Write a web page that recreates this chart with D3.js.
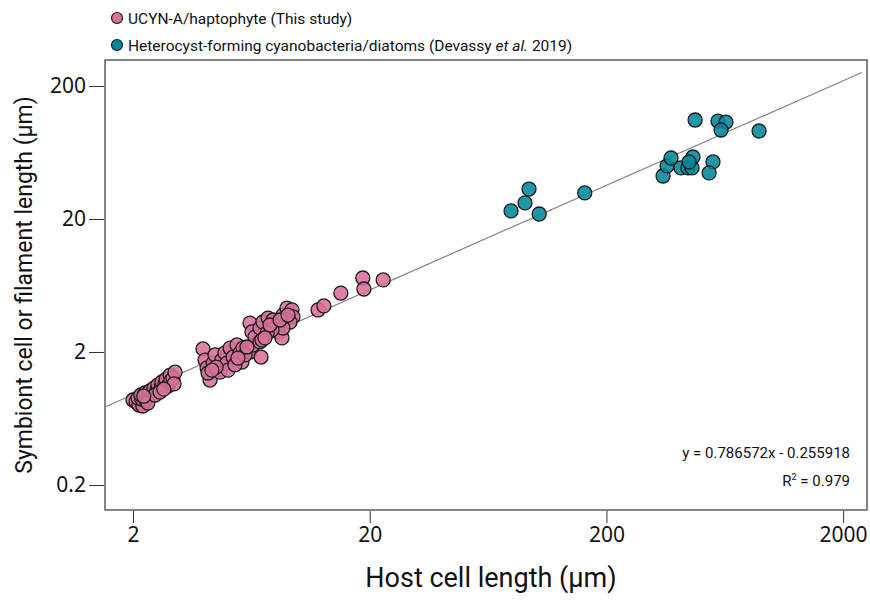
<!DOCTYPE html>
<html lang="en">
<head>
    <meta charset="UTF-8">
    <title>Host vs symbiont length</title>
    <script src="https://d3js.org/d3.v7.min.js"></script>
    <style>
        body {
            margin: 0;
            background: #fff;
        }
        .narrow {
            font-family: Roboto, "Liberation Sans", sans-serif;
        }
        .tick text {
            font-family: "Noto Sans", "Open Sans", sans-serif;
            font-size: 21px;
            fill: #111;
        }
        .tick line {
            stroke: #333;
        }
    </style>
</head>
<body>
    <svg width="870" height="600"></svg>

    <script>
        // host cell length, symbiont length (µm)
        const ucyn = [
            [2.00, 0.871], [2.06, 0.841], [2.12, 0.799], [2.20, 0.785], [2.10, 0.902],
            [2.18, 0.886], [2.27, 0.871], [2.16, 0.950], [2.25, 0.983], [2.34, 0.934],
            [2.36, 1.02], [2.43, 0.983], [2.45, 1.07], [2.53, 1.04], [2.55, 1.13],
            [2.63, 1.09], [2.65, 1.19], [2.73, 1.15], [2.76, 1.25], [2.81, 1.11],
            [2.87, 1.34], [2.89, 1.21], [2.95, 1.27], [3.01, 1.41], [2.98, 1.15],
            [2.31, 0.827], [2.48, 0.950], [2.60, 1.00], [2.22, 0.93], [2.70, 1.05],
            [3.95, 2.11], [4.03, 1.74], [4.11, 1.52], [4.23, 1.23], [4.15, 1.39],
            [4.36, 1.65], [4.44, 1.90], [4.57, 1.46], [4.66, 1.41], [4.75, 1.74],
            [4.89, 1.97], [4.99, 1.65], [5.14, 2.14], [5.29, 1.83], [5.50, 2.26],
            [5.66, 1.97], [5.77, 1.68], [5.83, 2.14], [6.12, 2.07], [6.24, 2.00],
            [6.43, 2.26], [6.95, 1.83], [5.04, 1.46], [5.39, 1.60], [4.49, 1.54],
            [5.95, 1.90], [5.55, 1.80], [4.31, 1.46],
            [6.24, 3.30], [6.36, 2.83], [6.55, 2.59], [6.88, 3.03], [7.08, 3.36],
            [7.44, 3.60], [7.81, 3.48], [8.12, 3.19], [8.20, 2.83], [8.52, 2.55],
            [8.60, 3.79], [8.94, 4.28], [9.39, 4.14], [9.48, 3.67], [9.21, 3.36],
            [8.60, 3.03], [7.73, 2.93], [7.37, 2.78], [6.88, 2.38], [7.01, 2.46],
            [6.06, 2.18], [7.58, 3.19], [8.36, 3.48], [9.03, 3.79], [7.22, 2.55],
            [12.1, 4.14], [12.8, 4.44], [15.1, 5.55], [18.7, 7.20], [18.9, 5.95],
            [22.8, 6.96]
        ];

        const diatoms = [
            [79.1, 23.0], [90.6, 26.4], [94.2, 33.6], [104, 21.8], [162, 31.4],
            [347, 42.1], [361, 50.1], [375, 57.5], [413, 48.4], [442, 48.4],
            [460, 48.4], [464, 58.5], [447, 53.7], [564, 53.7], [543, 44.4],
            [474, 111], [592, 109], [640, 107], [610, 93.4], [883, 91.8]
        ];

        const slope = 0.786572, intercept = -0.255918, r2 = 0.979;
        const xTicks = [2, 20, 200, 2000];
        const yTicks = [0.2, 2, 20, 200];

        const colors = { ucyn: "#d8719b", diatom: "#00899a" };
        const legendItems = [
            { key: "ucyn", parts: [["UCYN-A/haptophyte (This study)", false]] },
            { key: "diatom", parts: [["Heterocyst-forming cyanobacteria/diatoms (Devassy ", false], ["et al.", true], [" 2019)", false]] }
        ];

        const plot = { left: 105, right: 867, top: 60, bottom: 510 };
        const svg = d3.select("svg");

        const x = d3.scaleLog().domain([1.523, 2523]).range([plot.left, plot.right]);
        const y = d3.scaleLog().domain([0.1297, 313.7]).range([plot.bottom, plot.top]);

        // frame
        svg.append("rect")
            .attr("x", plot.left).attr("y", plot.top)
            .attr("width", plot.right - plot.left).attr("height", plot.bottom - plot.top)
            .attr("fill", "none").attr("stroke", "#333").attr("stroke-width", 1.2);

        const yAxis = svg.append("g")
            .attr("transform", `translate(${plot.left - 1},0)`)
            .call(d3.axisLeft(y).tickValues(yTicks).tickFormat(d => d).tickSize(15).tickPadding(3));
        yAxis.select(".domain").remove();

        const xAxis = svg.append("g")
            .attr("transform", `translate(0,${plot.bottom + 1})`)
            .call(d3.axisBottom(x).tickValues(xTicks).tickFormat(d => d).tickSize(12).tickPadding(4));
        xAxis.select(".domain").remove();

        // regression line (log-log)
        const fit = v => Math.pow(10, slope * Math.log10(v) + intercept);
        const xr = [x.domain()[0], 2400];
        svg.append("line")
            .attr("x1", x(xr[0])).attr("y1", y(fit(xr[0])))
            .attr("x2", x(xr[1])).attr("y2", y(fit(xr[1])))
            .attr("stroke", "#808080").attr("stroke-width", 1.2);

        function dots(data, color) {
            svg.append("g").selectAll("circle")
                .data(data)
                .join("circle")
                .attr("cx", d => x(d[0]))
                .attr("cy", d => y(d[1]))
                .attr("r", 7)
                .attr("fill", color)
                .attr("fill-opacity", 0.88)
                .attr("stroke", "#1a1a1a")
                .attr("stroke-width", 1.3);
        }
        dots(ucyn, colors.ucyn);
        dots(diatoms, colors.diatom);

        const txt = svg.append("g").attr("class", "narrow").attr("fill", "#111");

        // equation
        const eq = txt.append("g").attr("text-anchor", "end").style("font-size", "15px");
        eq.append("text").attr("x", 850).attr("y", 458)
            .text(`y = ${slope}x - ${Math.abs(intercept)}`);
        const r = eq.append("text").attr("x", 850).attr("y", 486);
        r.append("tspan").text("R");
        r.append("tspan").attr("dy", -6).style("font-size", "9px").text("2");
        r.append("tspan").attr("dy", 6).text(` = ${r2}`);

        // legend
        legendItems.forEach((item, i) => {
            const cy = 18 + i * 27;
            svg.append("circle")
                .attr("cx", 117).attr("cy", cy).attr("r", 5.5)
                .attr("fill", colors[item.key]).attr("stroke", "#1a1a1a").attr("stroke-width", 1.2);
            const t = txt.append("text").attr("x", 128).attr("y", cy + 6).style("font-size", "15.5px");
            item.parts.forEach(p => {
                t.append("tspan").style("font-style", p[1] ? "italic" : "normal").text(p[0]);
            });
        });

        // axis titles
        txt.append("text")
            .attr("text-anchor", "middle")
            .attr("transform", "translate(32,285) rotate(-90)")
            .style("font-size", "23px")
            .text("Symbiont cell or filament length (μm)");

        txt.append("text")
            .attr("text-anchor", "middle")
            .attr("x", 491).attr("y", 587)
            .style("font-size", "27px")
            .text("Host cell length (µm)");
    </script>
</body>
</html>
